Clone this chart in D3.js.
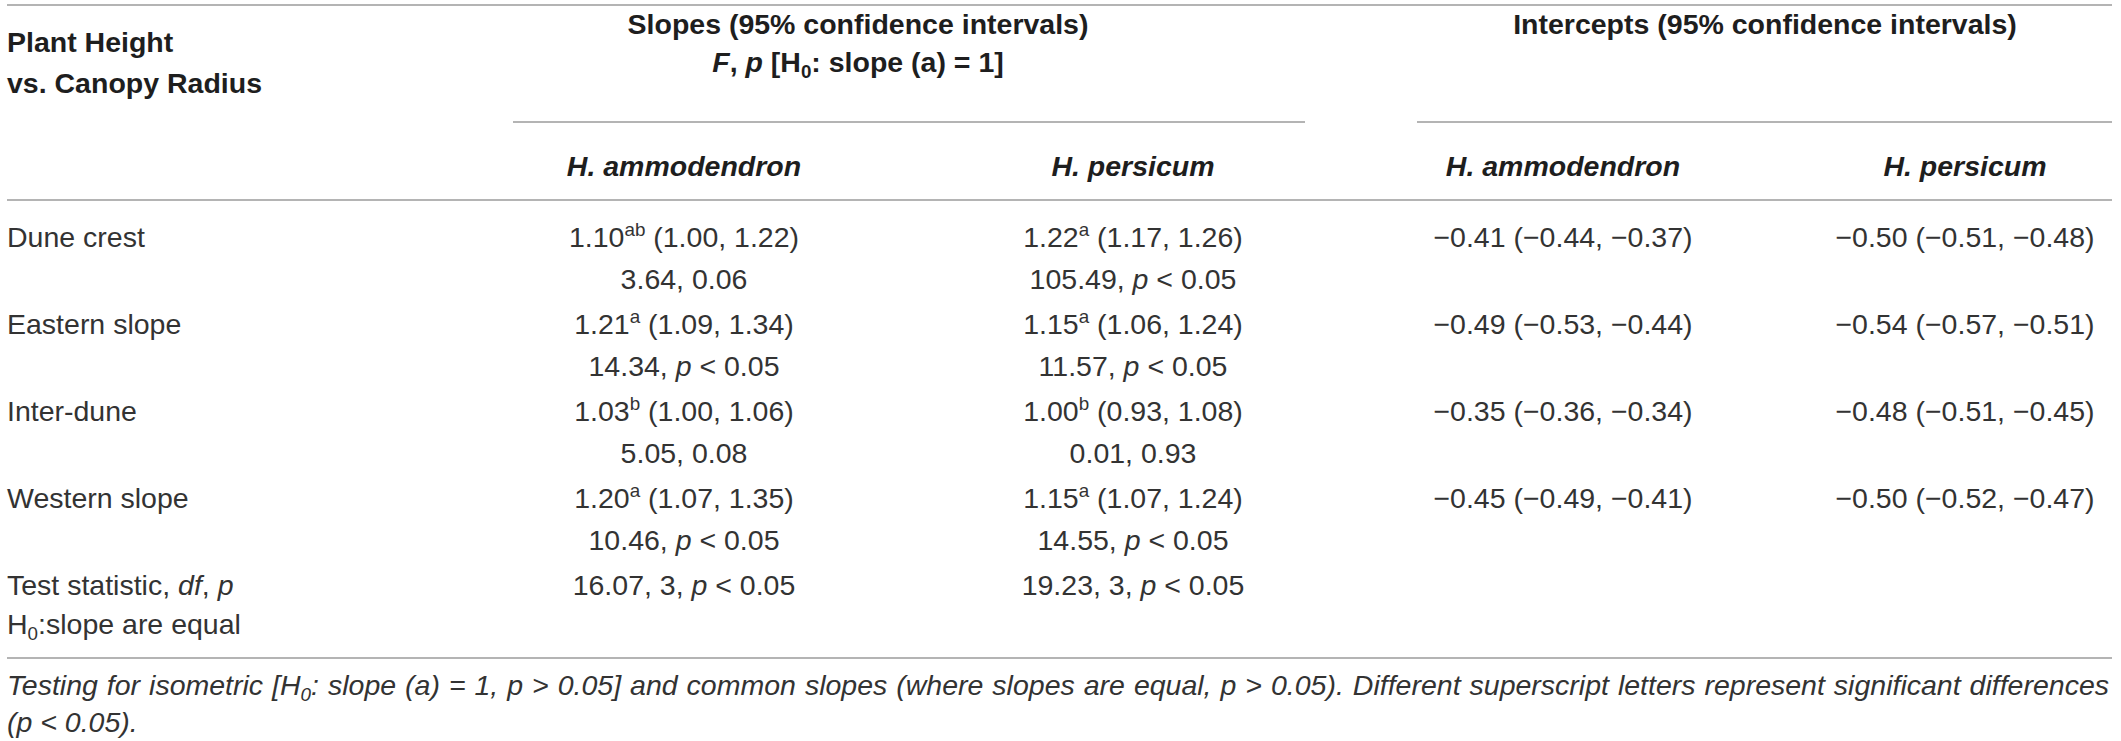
<!DOCTYPE html>
<html>
<head>
<meta charset="utf-8">
<script src="https://cdn.jsdelivr.net/npm/d3@7"></script>
<style>
  body { margin: 0; background: #fff; }
  svg { display: block; }
  text { font-family: "Liberation Sans", Arial, Helvetica, sans-serif; }
</style>
</head>
<body>
<svg width="2121" height="741"></svg>
<script>
// row labels
const sites = ["Dune crest", "Eastern slope", "Inter-dune", "Western slope"];

// slopes, H. ammodendron
const slopeHA = ["1.10", "1.21", "1.03", "1.20"];
const letterHA = ["ab", "a", "b", "a"];
const slopeHALow = ["1.00", "1.09", "1.00", "1.07"];
const slopeHAHigh = ["1.22", "1.34", "1.06", "1.35"];
const fHA = ["3.64", "14.34", "5.05", "10.46"];
const pHA = ["0.06", "< 0.05", "0.08", "< 0.05"];

// slopes, H. persicum
const slopeHP = ["1.22", "1.15", "1.00", "1.15"];
const letterHP = ["a", "a", "b", "a"];
const slopeHPLow = ["1.17", "1.06", "0.93", "1.07"];
const slopeHPHigh = ["1.26", "1.24", "1.08", "1.24"];
const fHP = ["105.49", "11.57", "0.01", "14.55"];
const pHP = ["< 0.05", "< 0.05", "0.93", "< 0.05"];

// intercepts
const intHA = ["−0.41", "−0.49", "−0.35", "−0.45"];
const intHALow = ["−0.44", "−0.53", "−0.36", "−0.49"];
const intHAHigh = ["−0.37", "−0.44", "−0.34", "−0.41"];
const intHP = ["−0.50", "−0.54", "−0.48", "−0.50"];
const intHPLow = ["−0.51", "−0.57", "−0.51", "−0.52"];
const intHPHigh = ["−0.48", "−0.51", "−0.45", "−0.47"];

// test statistic (F, df, p) for equal slopes
const testStat = ["16.07", "19.23"];
const testDf = ["3", "3"];
const testP = ["< 0.05", "< 0.05"];

const svg = d3.select("svg");
const FS = 28.5;
const ink = "#333";
const rule = "#9b9b9b";

const colKeys = ["label", "slopeHA", "slopeHP", "intHA", "intHP"];
const x = d3.scaleOrdinal().domain(colKeys).range([7, 684, 1133, 1563, 1965]);
const y = d3.scaleLinear().domain([0, 4]).range([247, 595]);   // baselines of first line per row
const lineGap = 42;

// segments: [text, style] with style among "", "i", "b", "bi", "sup", "sub"
function rich(parent, px, py, anchor, segs, opts = {}) {
  const size = opts.size || FS;
  const t = parent.append("text")
    .attr("x", px).attr("y", py)
    .attr("text-anchor", anchor)
    .attr("font-size", size)
    .attr("fill", opts.fill || ink)
    .attr("font-weight", opts.weight || "normal")
    .attr("font-style", opts.italic ? "italic" : "normal");
  let shift = 0;
  segs.forEach(([txt, st]) => {
    const s = t.append("tspan").text(txt);
    let target = 0;
    if (st === "sup") { target = -size * 0.38; s.attr("font-size", size * 0.66); }
    if (st === "sub") { target = size * 0.22; s.attr("font-size", size * 0.66); }
    if (st.includes("i") && st !== "sub") s.attr("font-style", "italic");
    if (st === "b" || st === "bi") s.attr("font-weight", "bold");
    if (target - shift !== 0) s.attr("dy", target - shift);
    shift = target;
  });
  return t;
}

function fpSegs(f, p) {
  return p.startsWith("<") ? [[f + ", ", ""], ["p", "i"], [" " + p, ""]] : [[f + ", " + p, ""]];
}

// rules
const rules = [
  { x1: 7, x2: 2112, y: 5 },
  { x1: 513, x2: 1305, y: 122 },
  { x1: 1417, x2: 2112, y: 122 },
  { x1: 7, x2: 2112, y: 200 },
  { x1: 7, x2: 2112, y: 658 }
];
svg.append("g").selectAll("line").data(rules).join("line")
  .attr("x1", d => d.x1).attr("x2", d => d.x2)
  .attr("y1", d => d.y).attr("y2", d => d.y)
  .attr("stroke", rule).attr("stroke-width", 1.6);

// header
const head = svg.append("g");
const hb = { weight: "bold", fill: "#1e1e1e" };
rich(head, x("label"), 52, "start", [["Plant Height", ""]], hb);
rich(head, x("label"), 93, "start", [["vs. Canopy Radius", ""]], hb);
rich(head, 858, 34, "middle", [["Slopes (95% confidence intervals)", ""]], hb);
rich(head, 858, 72, "middle", [["F", "bi"], [", ", ""], ["p", "bi"], [" [H", ""], ["0", "sub"], [": slope (a) = 1]", ""]], hb);
rich(head, 1765, 34, "middle", [["Intercepts (95% confidence intervals)", ""]], hb);
[["slopeHA", "H. ammodendron"], ["slopeHP", "H. persicum"], ["intHA", "H. ammodendron"], ["intHP", "H. persicum"]]
  .forEach(([k, name]) => rich(head, x(k), 176, "middle", [[name, ""]], { ...hb, italic: true }));

// body rows
const body = svg.append("g");
sites.forEach((site, i) => {
  const y0 = y(i), y1 = y(i) + lineGap;
  rich(body, x("label"), y0, "start", [[site, ""]]);
  rich(body, x("slopeHA"), y0, "middle",
    [[slopeHA[i], ""], [letterHA[i], "sup"], [" (" + slopeHALow[i] + ", " + slopeHAHigh[i] + ")", ""]]);
  rich(body, x("slopeHA"), y1, "middle", fpSegs(fHA[i], pHA[i]));
  rich(body, x("slopeHP"), y0, "middle",
    [[slopeHP[i], ""], [letterHP[i], "sup"], [" (" + slopeHPLow[i] + ", " + slopeHPHigh[i] + ")", ""]]);
  rich(body, x("slopeHP"), y1, "middle", fpSegs(fHP[i], pHP[i]));
  rich(body, x("intHA"), y0, "middle", [[intHA[i] + " (" + intHALow[i] + ", " + intHAHigh[i] + ")", ""]]);
  rich(body, x("intHP"), y0, "middle", [[intHP[i] + " (" + intHPLow[i] + ", " + intHPHigh[i] + ")", ""]]);
});

// test statistic row
const yt = y(4);
rich(body, x("label"), yt, "start", [["Test statistic, ", ""], ["df", "i"], [", ", ""], ["p", "i"]]);
rich(body, x("label"), yt + lineGap - 3, "start", [["H", ""], ["0", "sub"], [":slope are equal", ""]]);
["slopeHA", "slopeHP"].forEach((k, j) => {
  rich(body, x(k), yt, "middle", [[testStat[j] + ", " + testDf[j] + ", ", ""], ["p", "i"], [" " + testP[j], ""]]);
});

// footnote
const foot = svg.append("g");
const f1 = rich(foot, 7, 695, "start", [
  ["Testing for isometric [H", ""], ["0", "sub"],
  [": slope (a) = 1, p > 0.05] and common slopes (where slopes are equal, p > 0.05). Different superscript letters represent significant differences", ""]
], { italic: true });
const len = f1.node().getComputedTextLength();
const spaces = (f1.text().match(/ /g) || []).length;
f1.attr("word-spacing", Math.max(0, (2109 - 7 - len) / spaces));
rich(foot, 7, 732, "start", [["(p < 0.05).", ""]], { italic: true });
</script>
</body>
</html>
